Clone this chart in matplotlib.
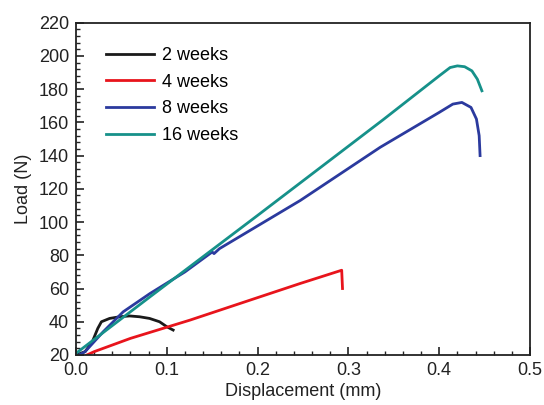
import matplotlib
matplotlib.use("Agg")
import matplotlib.pyplot as plt
from matplotlib.ticker import MultipleLocator

plt.rcParams['font.family'] = ['Liberation Sans', 'DejaVu Sans']

labels = ["2 weeks", "4 weeks", "8 weeks", "16 weeks"]
colors = ["#1a1a1a", "#e8141c", "#2b3a9e", "#16918a"]

x_2w = [0.0, 0.010, 0.018, 0.024, 0.028, 0.037, 0.048, 0.059, 0.070, 0.081, 0.092, 0.100, 0.107]
y_2w = [20, 22, 28, 36, 40, 42, 43, 43.5, 43, 42, 40, 37, 35]

x_4w = [0.012, 0.020, 0.060, 0.1256, 0.1916, 0.2467, 0.2926, 0.2935]
y_4w = [20, 22, 30, 41, 53, 63, 71, 60]

x_8w = [0.0, 0.010, 0.030, 0.052, 0.0815, 0.120, 0.150, 0.152, 0.158, 0.247, 0.335, 0.400, 0.415, 0.425, 0.435, 0.441, 0.444, 0.445]
y_8w = [19, 22, 34, 46, 57, 70, 82, 81, 84, 113, 145, 166, 171, 172, 169, 162, 152, 140]

x_16w = [0.0, 0.0815, 0.200, 0.338, 0.400, 0.412, 0.420, 0.428, 0.436, 0.442, 0.447]
y_16w = [21, 55, 104, 161.5, 188, 193, 194, 193.5, 191, 186, 179]

fig = plt.figure(figsize=(5.44, 4.05), dpi=100)
ax = fig.add_axes([0.1397, 0.1235, 0.8346, 0.8205])

for xs, ys, lab, c in zip([x_2w, x_4w, x_8w, x_16w], [y_2w, y_4w, y_8w, y_16w], labels, colors):
    ax.plot(xs, ys, color=c, lw=2.0, label=lab)

ax.set_xlim(0, 0.5)
ax.set_ylim(20, 220)
ax.xaxis.set_major_locator(MultipleLocator(0.1))
ax.xaxis.set_minor_locator(MultipleLocator(0.02))
ax.yaxis.set_major_locator(MultipleLocator(20))
ax.yaxis.set_minor_locator(MultipleLocator(4))
ax.xaxis.set_major_formatter(matplotlib.ticker.FormatStrFormatter('%.1f'))
ax.tick_params(which='both', direction='in', top=False, right=False, labelsize=13, colors='#222222')
ax.tick_params(which='major', length=6, width=1.2, pad=5)
ax.tick_params(which='minor', length=3, width=1)
for s in ax.spines.values():
    s.set_linewidth(1.3)
    s.set_color('#222222')

ax.set_xlabel("Displacement (mm)", fontsize=13, color='#222222', labelpad=3)
ax.set_ylabel("Load (N)", fontsize=13, color='#222222', labelpad=5)

ax.legend(loc='upper left', frameon=False, fontsize=13, handlelength=2.66, handletextpad=0.43,
          labelspacing=0.54, bbox_to_anchor=(0.050, 0.949), borderaxespad=0)

fig.savefig("out.png", dpi=100)
